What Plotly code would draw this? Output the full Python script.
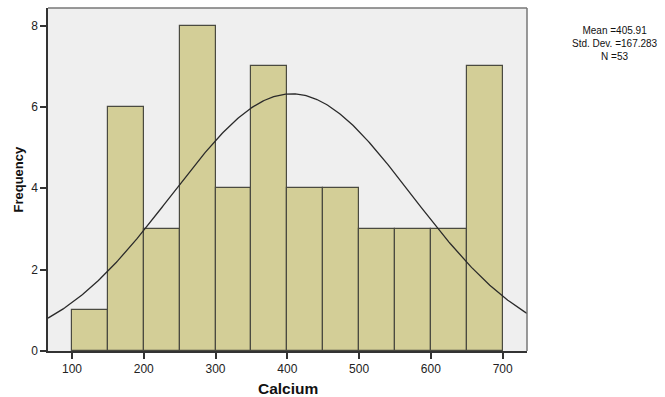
import numpy as np
import plotly.graph_objects as go

bin_starts = [100, 150, 200, 250, 300, 350, 400, 450, 500, 550, 600, 650]
bin_width = 50
counts = [1, 6, 3, 8, 4, 7, 4, 4, 3, 3, 3, 7]
mean = 405.91
std = 167.283
n = 53
x_ticks = [100, 200, 300, 400, 500, 600, 700]
y_ticks = [0, 2, 4, 6, 8]
stats_lines = ["Mean =%.2f" % mean, "Std. Dev. =%.3f" % std, "N =%d" % n]

x_range = [66.6, 733.9]
y_range = [0, 8.43]

W, H = 665, 397
ML, MR, MT, MB = 48, 138, 8, 46
PW, PH = W - ML - MR, H - MT - MB

def px_x(px):
    return (px - ML) / PW

def px_y(py):
    return (H - MB - py) / PH

centers = [b + bin_width / 2 for b in bin_starts]

fig = go.Figure()
fig.add_trace(go.Bar(
    x=centers, y=counts, width=bin_width,
    marker=dict(color="#D3CE97", line=dict(color="#4a4a40", width=1.2)),
    hoverinfo="x+y",
))

# fitted normal curve from the stated mean, std dev and N
xs = np.linspace(x_range[0], x_range[1], 400)
ys = n * bin_width * np.exp(-0.5 * ((xs - mean) / std) ** 2) / (std * np.sqrt(2 * np.pi))
fig.add_trace(go.Scatter(x=xs, y=ys, mode="lines",
                         line=dict(color="#2a2a2a", width=1.3), hoverinfo="skip"))

font = "Liberation Sans, Arial, sans-serif"
annotations = [
    dict(xref="paper", yref="paper", x=0.5, y=px_y(388), xanchor="center", yanchor="middle",
         text="<b>Calcium</b>", showarrow=False, font=dict(size=15.5, color="#111", family=font)),
    dict(xref="paper", yref="paper", x=px_x(18), y=0.5, xanchor="center", yanchor="middle",
         text="<b>Frequency</b>", textangle=-90, showarrow=False,
         font=dict(size=13, color="#111", family=font)),
    dict(xref="paper", yref="paper", x=px_x(615), y=px_y(43.5),
         xanchor="center", yanchor="middle", text="<br>".join(stats_lines),
         showarrow=False, align="center",
         font=dict(size=10, color="#111", family=font)),
]

fig.update_layout(
    width=W, height=H,
    margin=dict(l=ML, r=MR, t=MT, b=MB),
    paper_bgcolor="white", plot_bgcolor="#EFEFEF",
    showlegend=False, bargap=0,
    font=dict(family=font, color="#222", size=12),
    xaxis=dict(range=x_range, tickvals=x_ticks, ticks="outside", ticklen=6,
               tickcolor="#333", tickwidth=1.5, showgrid=False, zeroline=False,
               showline=True, linecolor="#333", linewidth=1.5, automargin=False,
               tickfont=dict(size=12, color="#222")),
    yaxis=dict(range=y_range, tickvals=y_ticks, ticks="outside", ticklen=6,
               tickcolor="#333", tickwidth=1.5, showgrid=False, zeroline=False,
               showline=True, linecolor="#333", linewidth=1.5, automargin=False,
               tickfont=dict(size=12, color="#222")),
    shapes=[
        dict(type="line", xref="paper", yref="paper", x0=0, x1=1, y0=1, y1=1,
             line=dict(color="#777", width=1.5)),
        dict(type="line", xref="paper", yref="paper", x0=1, x1=1, y0=0, y1=1,
             line=dict(color="#777", width=1.5)),
    ],
    annotations=annotations,
)

fig.write_html("out.html")
